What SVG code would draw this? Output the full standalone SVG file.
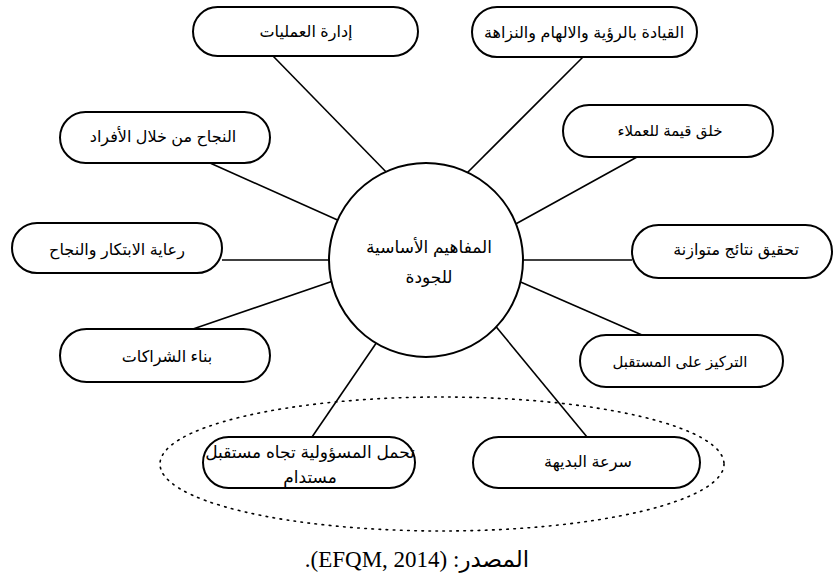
<svg xmlns="http://www.w3.org/2000/svg" width="835" height="577" viewBox="0 0 835 577">
<style>
.box{fill:#fff;stroke:#000;stroke-width:2}
.lnk{stroke:#000;stroke-width:1.6;fill:none}
.t{font-family:"Liberation Sans","DejaVu Sans",sans-serif;font-size:16px;fill:#000;text-anchor:middle;direction:rtl}
.s{font-size:15px}
.c{font-size:17px}
.src{font-family:"Liberation Serif","DejaVu Sans",serif;font-size:23px;fill:#000;text-anchor:middle;direction:rtl}
</style>
<rect width="835" height="577" fill="#fff"/>
<ellipse cx="442" cy="464" rx="282" ry="67" fill="none" stroke="#000" stroke-width="1.6" stroke-dasharray="1.6 5.5" stroke-linecap="round"/>
<g id="connectors">
<line class="lnk" x1="273" y1="56" x2="392" y2="178"/>
<line class="lnk" x1="583" y1="57" x2="462" y2="178"/>
<line class="lnk" x1="210" y1="163" x2="342" y2="222"/>
<line class="lnk" x1="637" y1="157" x2="512" y2="226"/>
<line class="lnk" x1="222" y1="260" x2="336" y2="260"/>
<line class="lnk" x1="518" y1="260" x2="632" y2="260"/>
<line class="lnk" x1="193" y1="329" x2="336" y2="280"/>
<line class="lnk" x1="516" y1="280" x2="642" y2="335"/>
<line class="lnk" x1="312" y1="437" x2="379" y2="339"/>
<line class="lnk" x1="587" y1="437" x2="493" y2="323"/>
</g>
<g id="center">
<circle cx="426" cy="260" r="97" class="box"/>
<text class="t c" x="429" y="253">المفاهيم الأساسية</text>
<text class="t c" x="429" y="283">للجودة</text>
</g>
<g id="n1"><rect class="box" x="193" y="7" width="225" height="49" rx="24.5"/><text class="t" x="306" y="37">إدارة العمليات</text></g>
<g id="n2"><rect class="box" x="472" y="7" width="225" height="50" rx="25"/><text class="t" x="584" y="38">القيادة بالرؤية والالهام والنزاهة</text></g>
<g id="n3"><rect class="box" x="60" y="112" width="210" height="51" rx="25.5"/><text class="t" x="163" y="142">النجاح من خلال الأفراد</text></g>
<g id="n4"><rect class="box" x="563" y="105" width="210" height="52" rx="26"/><text class="t s" x="670" y="136">خلق قيمة للعملاء</text></g>
<g id="n5"><rect class="box" x="12" y="223" width="210" height="50" rx="25"/><text class="t" x="117" y="255">رعاية الابتكار والنجاح</text></g>
<g id="n6"><rect class="box" x="632" y="225" width="200" height="53" rx="26.5"/><text class="t" x="736" y="255">تحقيق نتائج متوازنة</text></g>
<g id="n7"><rect class="box" x="60" y="329" width="210" height="53" rx="26.5"/><text class="t" x="167" y="362">بناء الشراكات</text></g>
<g id="n8"><rect class="box" x="580" y="335" width="203" height="52" rx="26"/><text class="t s" x="680" y="367">التركيز على المستقبل</text></g>
<g id="n9"><rect class="box" x="203" y="437" width="212" height="51" rx="25.5"/><text class="t c" x="310" y="458">تحمل المسؤولية تجاه مستقبل</text><text class="t c" x="310" y="483">مستدام</text></g>
<g id="n10"><rect class="box" x="473" y="437" width="227" height="51" rx="25.5"/><text class="t" x="588" y="467">سرعة البديهة</text></g>
<text class="src" x="417" y="567">المصدر: (EFQM, 2014).</text>
</svg>
